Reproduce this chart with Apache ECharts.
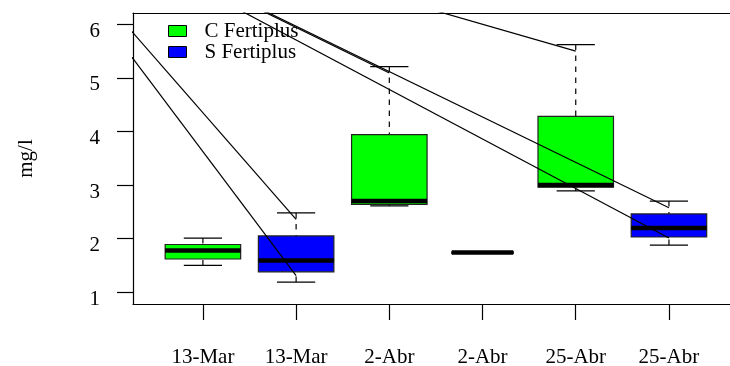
<!DOCTYPE html>
<html>
<head>
<meta charset="utf-8">
<title>mg/l por fecha</title>
<script src="https://cdn.jsdelivr.net/npm/echarts@6/dist/echarts.min.js"></script>
<style>
  html, body { margin: 0; padding: 0; background: #fff; }
  #chart { width: 730px; height: 366px; }
</style>
</head>
<body>
<div id="chart"></div>
<script>
// ---- data ----
const dates = ['13-Mar', '13-Mar', '2-Abr', '2-Abr', '25-Abr', '25-Abr'];
const groupNames = ['C Fertiplus', 'S Fertiplus'];

// box statistics: [min, Q1, median, Q3, max]
const cPositions = [1, 3, 5];
const cFertiplus = [
  [1.50, 1.62, 1.78, 1.89, 2.01],
  [2.61, 2.64, 2.70, 3.94, 5.21],
  [2.89, 2.96, 3.00, 4.28, 5.62]
];
const sPositions = [2, 4, 6];
const sFertiplus = [
  [1.19, 1.38, 1.59, 2.05, 2.48],
  [1.725, 1.725, 1.74, 1.755, 1.755],
  [1.88, 2.03, 2.20, 2.46, 2.70]
];

// straight segments crossing the panel: [[x0, y0], [x1, y1]]
const crossSegments = [
  [[0, 5.94], [2, 1.31]],
  [[0, 6.34], [2, 2.36]],
  [[1, 6.63], [6, 2.01]],
  [[1, 6.79], [3, 5.09]],
  [[1, 6.81], [6, 2.575]],
  [[3, 6.50], [5, 5.50]]
];

const yTicks = [1, 2, 3, 4, 5, 6];
const xTicks = [1, 2, 3, 4, 5, 6];

// ---- styles ----
const FONT = 'Liberation Serif';
const GREEN = '#00ff00';
const BLUE = '#0000ff';
const boxWidth = [0.81, 0.81, 0.81, 0.66, 0.81, 0.81];
const capWidth = 0.41;
const X_MIN = 0.25, X_MAX = 6.655;

function toRows(positions, stats) {
  return positions.map((p, i) => [p].concat(stats[i]));
}

function renderBox(params, api) {
  const x = api.value(0);
  const lo = api.value(1), q1 = api.value(2), med = api.value(3), q3 = api.value(4), hi = api.value(5);
  const w = boxWidth[x - 1];
  const color = api.visual('color');
  const line = (a, b, style) => ({
    type: 'line',
    shape: { x1: a[0], y1: a[1], x2: b[0], y2: b[1] },
    style: Object.assign({ stroke: '#000', lineWidth: 1.2 }, style)
  });
  const tl = api.coord([x - w / 2, q3]);
  const br = api.coord([x + w / 2, q1]);
  const mL = api.coord([x - w / 2, med]);
  const mR = api.coord([x + w / 2, med]);
  return {
    type: 'group',
    children: [
      line(api.coord([x, hi]), api.coord([x, q3]), { lineDash: [5.5, 5.5] }),
      line(api.coord([x, lo]), api.coord([x, q1]), { lineDash: [5.5, 5.5] }),
      line(api.coord([x - capWidth / 2, hi]), api.coord([x + capWidth / 2, hi]), {}),
      line(api.coord([x - capWidth / 2, lo]), api.coord([x + capWidth / 2, lo]), {}),
      {
        type: 'rect',
        shape: { x: tl[0], y: tl[1], width: br[0] - tl[0], height: br[1] - tl[1] },
        style: { fill: color, stroke: '#222', lineWidth: 1.2 }
      },
      line(mL, mR, { lineWidth: 4.5 })
    ]
  };
}

const chart = echarts.init(document.getElementById('chart'), null, { renderer: 'canvas' });

const segmentSeries = crossSegments.map(seg => ({
  type: 'line',
  data: seg,
  symbol: 'none',
  clip: true,
  silent: true,
  z: 5,
  lineStyle: { color: '#000', width: 1.2 }
}));

const axisLineStyle = { color: '#000', width: 1.2 };

chart.setOption({
  animation: false,
  backgroundColor: '#fff',
  grid: { left: 133, top: 13, right: 0, height: 291, show: false, outerBoundsMode: 'none', containLabel: false },
  legend: {
    data: groupNames,
    orient: 'vertical',
    left: 168, top: 20.5, padding: 0,
    itemWidth: 18, itemHeight: 11, itemGap: 0,
    icon: 'rect',
    itemStyle: { borderColor: '#000', borderWidth: 1 },
    textStyle: { fontFamily: FONT, fontSize: 21, color: '#000', lineHeight: 19, padding: [2, 0, 0, 13] }
  },
  xAxis: [
    {
      type: 'value', min: X_MIN, max: X_MAX, position: 'bottom',
      splitLine: { show: false },
      axisLine: { show: true, lineStyle: axisLineStyle },
      axisTick: { show: true, inside: false, length: 16, customValues: xTicks, lineStyle: axisLineStyle },
      axisLabel: {
        customValues: xTicks, margin: 43,
        fontFamily: FONT, fontSize: 21, color: '#000',
        formatter: v => dates[Math.round(v) - 1]
      }
    },
    {
      // upper frame edge
      type: 'value', min: X_MIN, max: X_MAX, position: 'top',
      splitLine: { show: false },
      axisLine: { show: true, lineStyle: axisLineStyle },
      axisTick: { show: false },
      axisLabel: { show: false }
    }
  ],
  yAxis: {
    type: 'value', min: 0.78, max: 6.21,
    name: 'mg/l', nameLocation: 'middle', nameGap: 96, nameRotate: 90,
    nameTextStyle: { fontFamily: FONT, fontSize: 21, color: '#000' },
    splitLine: { show: false },
    axisLine: { show: true, lineStyle: axisLineStyle },
    axisTick: { show: true, inside: false, length: 16, customValues: yTicks, lineStyle: axisLineStyle },
    axisLabel: {
      customValues: yTicks, margin: 33,
      fontFamily: FONT, fontSize: 21, color: '#000',
      verticalAlign: 'top', lineHeight: 14
    }
  },
  series: [
    {
      name: groupNames[0], type: 'custom', clip: true, z: 3,
      itemStyle: { color: GREEN },
      encode: { x: 0, y: [1, 2, 3, 4, 5] },
      renderItem: renderBox,
      data: toRows(cPositions, cFertiplus)
    },
    {
      name: groupNames[1], type: 'custom', clip: true, z: 3,
      itemStyle: { color: BLUE },
      encode: { x: 0, y: [1, 2, 3, 4, 5] },
      renderItem: renderBox,
      data: toRows(sPositions, sFertiplus)
    }
  ].concat(segmentSeries)
});
</script>
</body>
</html>
